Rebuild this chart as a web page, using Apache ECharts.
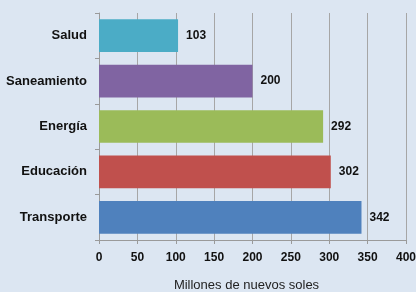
<!DOCTYPE html>
<html>
<head>
<meta charset="utf-8">
<script src="https://cdn.jsdelivr.net/npm/echarts@6/dist/echarts.min.js"></script>
<style>
  html, body { margin: 0; padding: 0; background: #dce6f2; }
  #main { width: 416px; height: 292px; }
</style>
</head>
<body>
<div id="main"></div>
<script>
// categories from bottom to top
var categories = ['Transporte', 'Educación', 'Energía', 'Saneamiento', 'Salud'];
var values = [342, 302, 292, 200, 103];
var barColors = ['#4f81bd', '#c0504d', '#9bbb59', '#8064a2', '#4bacc6'];
var axisTitle = 'Millones de nuevos soles';

var chartObj = echarts.init(document.getElementById('main'));

var seriesData = [];
for (var i = 0; i < values.length; i++) {
    seriesData.push({ value: values[i], itemStyle: { color: barColors[i] } });
}

var chartOpt = {
    backgroundColor: '#dce6f2',
    animation: false,
    textStyle: { fontFamily: 'Liberation Sans, Arial, sans-serif' },
    grid: { left: 99, right: 10, top: 13, bottom: 52, outerBoundsMode: 'none', containLabel: false },
    xAxis: {
        type: 'value',
        min: 0,
        max: 400,
        interval: 50,
        name: axisTitle,
        nameLocation: 'middle',
        nameGap: 39,
        nameTextStyle: { color: '#222', fontSize: 13, padding: [0, 12, 0, 0] },
        axisLine: { show: true, lineStyle: { color: '#9a9a9a', width: 1 } },
        axisTick: { show: true, length: 4, lineStyle: { color: '#9a9a9a' } },
        axisLabel: { color: '#111', fontWeight: 'bold', fontSize: 12, margin: 12 },
        splitLine: { show: true, lineStyle: { color: '#a6a6a6', width: 1 } }
    },
    yAxis: {
        type: 'category',
        data: categories,
        axisLine: { show: true, lineStyle: { color: '#9a9a9a', width: 1 } },
        axisTick: { show: true, length: 4, lineStyle: { color: '#9a9a9a' } },
        axisLabel: { color: '#111', fontWeight: 'bold', fontSize: 13, margin: 12 },
        splitLine: { show: false }
    },
    series: [{
        type: 'bar',
        data: seriesData,
        barWidth: '72%',
        label: {
            show: true,
            position: 'right',
            distance: 8,
            color: '#111',
            fontWeight: 'bold',
            fontSize: 12
        }
    }]
};

chartObj.setOption(chartOpt);
</script>
</body>
</html>
